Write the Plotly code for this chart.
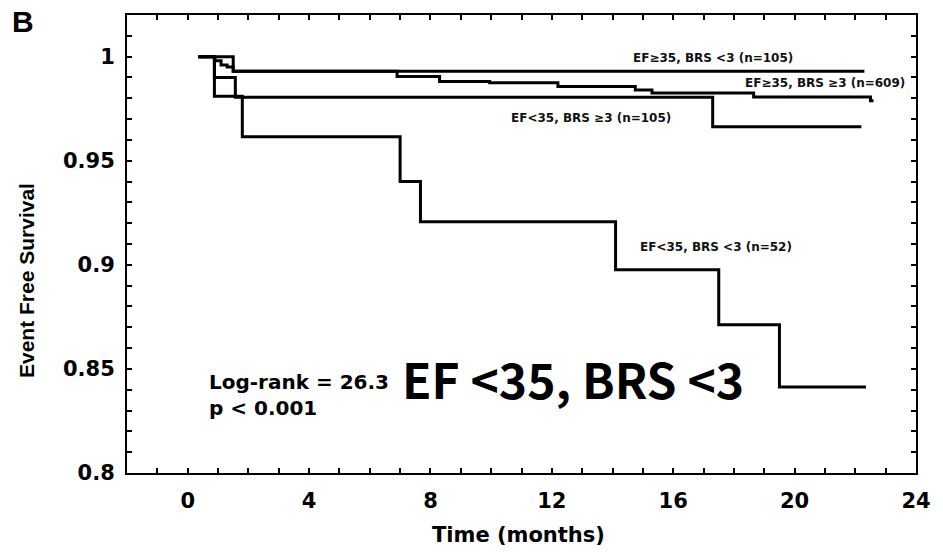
import plotly.graph_objects as go

# ---- data ----
time_a = [0.35, 1.5, 22.3]
surv_a = [1.0, 0.993, 0.993]            # EF>=35, BRS<3 (n=105)

time_b = [0.35, 0.9, 1.1, 1.3, 1.5, 6.9, 8.3, 9.95, 12.2, 14.75, 15.3, 18.65, 22.5, 22.6]
surv_b = [1.0, 0.998, 0.996, 0.995, 0.993, 0.9905, 0.988, 0.9875, 0.9857, 0.984, 0.9825, 0.9806, 0.9788, 0.9788]  # EF>=35, BRS>=3 (n=609)

time_c = [0.35, 0.88, 1.57, 17.3, 22.2]
surv_c = [1.0, 0.99, 0.9805, 0.9663, 0.9663]   # EF<35, BRS>=3 (n=105)

time_d = [0.35, 0.88, 1.8, 7.0, 7.67, 14.1, 17.5, 19.5, 22.35]
surv_d = [1.0, 0.981, 0.9615, 0.94, 0.9207, 0.8976, 0.8712, 0.8413, 0.8413]  # EF<35, BRS<3 (n=52)

labels = ["EF≥35, BRS <3 (n=105)", "EF≥35, BRS ≥3 (n=609)",
          "EF<35, BRS ≥3 (n=105)", "EF<35, BRS <3 (n=52)"]

x_major = [0, 4, 8, 12, 16, 20, 24]
y_major = [0.8, 0.85, 0.9, 0.95, 1.0]
y_major_text = ["0.8", "0.85", "0.9", "0.95", "1"]

x_minor = list(range(-2, 25))
y_minor = [round(0.80 + 0.01 * i, 2) for i in range(23)]

fig = go.Figure()
for t, s, name in [(time_a, surv_a, labels[0]), (time_b, surv_b, labels[1]),
                   (time_c, surv_c, labels[2]), (time_d, surv_d, labels[3])]:
    fig.add_trace(go.Scatter(x=t, y=s, mode="lines", name=name,
                             line=dict(color="black", width=3, shape="hv"),
                             showlegend=False))

xtext = [str(v) if v in x_major else "" for v in x_minor]
ytext = []
for v in y_minor:
    lab = ""
    for mv, mt in zip(y_major, y_major_text):
        if abs(v - mv) < 1e-9:
            lab = mt
    ytext.append(lab)

tickfont = dict(family="DejaVu Sans", size=21, color="black", weight="bold")

fig.update_xaxes(range=[-2, 24], tickvals=x_minor, ticktext=xtext,
                 ticks="inside", ticklen=5, tickwidth=1.5, tickcolor="black",
                 showline=True, linecolor="black", linewidth=2, mirror="ticks",
                 showgrid=False, zeroline=False, tickfont=tickfont,
                 ticklabelstandoff=8)
fig.update_yaxes(range=[0.8, 1.02], tickvals=y_minor, ticktext=ytext,
                 ticks="inside", ticklen=5, tickwidth=1.5, tickcolor="black",
                 showline=True, linecolor="black", linewidth=2, mirror="ticks",
                 showgrid=False, zeroline=False, tickfont=tickfont,
                 ticklabelstandoff=6)

lab_font = dict(family="DejaVu Sans", size=12, color="#111", weight="bold")
ann = [
    dict(x=17.3, y=0.9995, text=labels[0], font=lab_font, xanchor="center"),
    dict(x=21.0, y=0.9875, text=labels[1], font=lab_font, xanchor="center"),
    dict(x=13.28, y=0.9707, text=labels[2], font=lab_font, xanchor="center"),
    dict(x=17.42, y=0.9087, text=labels[3], font=lab_font, xanchor="center"),
    dict(x=0.62, y=0.8435, text="Log-rank = 26.3", xanchor="left",
         font=dict(family="DejaVu Sans", size=20, color="black", weight="bold")),
    dict(x=0.62, y=0.831, text="p < 0.001", xanchor="left",
         font=dict(family="DejaVu Sans", size=20, color="black", weight="bold")),
    dict(x=6.98, y=0.8455, text="EF <35, BRS <3", xanchor="left",
         font=dict(family="Noto Sans CJK KR", size=48, color="black", weight="bold")),
]
for a in ann:
    a.update(xref="x", yref="y", showarrow=False, yanchor="middle")
    fig.add_annotation(**a)

# axis titles / panel letter (paper coordinates)
W, H = 943, 553
L, R, T, B = 127, 19, 15, 80
pw, ph = W - L - R, H - T - B
def px(xp):
    return (xp - L) / pw
def py(yp):
    return (H - B - yp) / ph

fig.add_annotation(x=px(25), y=py(281), xref="paper", yref="paper", text="Event Free Survival",
                   textangle=-90, showarrow=False, xanchor="center", yanchor="middle",
                   font=dict(family="Liberation Sans", size=21, color="black", weight="bold"))
fig.add_annotation(x=px(522), y=py(535), xref="paper", yref="paper", text="Time (months)",
                   showarrow=False, xanchor="center", yanchor="middle",
                   font=dict(family="DejaVu Sans", size=21, color="black", weight="bold"))
fig.add_annotation(x=px(22), y=py(22), xref="paper", yref="paper", text="B",
                   showarrow=False, xanchor="center", yanchor="middle",
                   font=dict(family="Liberation Sans", size=30, color="black", weight="bold"))

fig.update_layout(width=W, height=H, margin=dict(l=L, r=R, t=T, b=B),
                  paper_bgcolor="white", plot_bgcolor="white")

fig.write_html("out.html")
